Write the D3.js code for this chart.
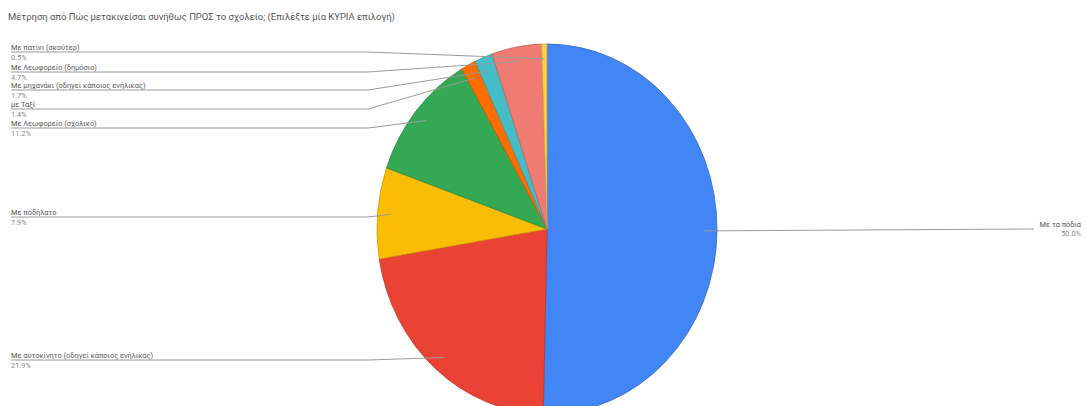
<!DOCTYPE html>
<html>
<head>
<meta charset="utf-8">
<script src="https://cdn.jsdelivr.net/npm/d3@7"></script>
<style>
  html, body { margin: 0; padding: 0; background: #fff; }
  svg { display: block; font-family: Roboto, "Noto Sans", Arial, sans-serif; }
</style>
</head>
<body>
<svg id="chart" width="1085" height="406"></svg>
<script>
// Survey answers (share of responses, %), in slice order clockwise from 12 o'clock
const categories = [
  "Με τα πόδια",
  "Με αυτοκίνητο (οδηγεί κάποιος ενήλικας)",
  "Με ποδήλατο",
  "Με Λεωφορείο (σχολικό)",
  "με Ταξί",
  "Με μηχανάκι (οδηγεί κάποιος ενήλικας)",
  "Με Λεωφορείο (δημόσιο)",
  "Με πατίνι (σκούτερ)"
];
const shares = [50.0, 21.9, 7.9, 11.2, 1.4, 1.7, 4.7, 0.5];
const palette = ["#4285F4", "#EA4335", "#FBBC04", "#34A853", "#FF6D01", "#46BDC6", "#F07B72", "#FCD04F"];
const title = "Μέτρηση από Πώς μετακινείσαι συνήθως ΠΡΟΣ το σχολείο; (Επιλέξτε μία ΚΥΡΙΑ επιλογή)";

// Vertical position of each label's leader line (label stack on the left, blue on the right)
const labelLineY = [229, 360, 217, 128, 109, 90, 72, 52];

const W = 1085, H = 406;
const cx = 547, cy = 229, R = 170, yScale = 185 / 170;

const svg = d3.select("#chart");
svg.append("rect").attr("width", W).attr("height", H).attr("fill", "#fff");

svg.append("text")
  .attr("x", 8).attr("y", 20)
  .attr("font-size", 9.45)
  .attr("fill", "#555")
  .text(title);

const pie = d3.pie().sort(null).value(d => d)
  .startAngle(0).endAngle(2 * Math.PI);
const arcs = pie(shares);
const arc = d3.arc().innerRadius(0).outerRadius(R);

const g = svg.append("g")
  .attr("transform", `translate(${cx},${cy}) scale(1,${yScale})`);

g.selectAll("path.slice")
  .data(arcs)
  .join("path")
  .attr("class", "slice")
  .attr("d", arc)
  .attr("fill", (d, i) => palette[i])
  .attr("stroke", (d, i) => d3.color(palette[i]).darker(0.6))
  .attr("stroke-width", 0.8)
  .attr("vector-effect", "non-scaling-stroke");

// Anchor point for a slice: a bit inside the rim at the slice's middle angle
function anchor(d) {
  const a = (d.startAngle + d.endAngle) / 2;
  const r = R * 0.92;
  return [cx + Math.sin(a) * r, cy - Math.cos(a) * r * yScale];
}

const fmt = v => v.toFixed(1) + "%";
const labels = svg.append("g");
const lineColor = "#9a9a9a";

arcs.forEach((d, i) => {
  const [ax, ay] = anchor(d);
  const ly = labelLineY[i];
  if (i === 0) {
    // right-hand label: line stops short, text sits beside its end
    const lineEnd = 1034, textX = 1081;
    labels.append("path")
      .attr("d", d3.line()([[ax, ay], [lineEnd, ly]]))
      .attr("fill", "none").attr("stroke", lineColor).attr("stroke-width", 1);
    labels.append("text").attr("x", textX).attr("y", ly - 2.5)
      .attr("text-anchor", "end").attr("font-size", 7.4).attr("fill", "#555")
      .text(categories[i]);
    labels.append("text").attr("x", textX).attr("y", ly + 6.5)
      .attr("text-anchor", "end").attr("font-size", 7.4).attr("fill", "#888")
      .text(fmt(shares[i]));
  } else {
    const x0 = 11;
    const bend = Math.min(ax - 20, 368);
    labels.append("path")
      .attr("d", d3.line()([[x0, ly], [bend, ly], [ax, ay]]))
      .attr("fill", "none").attr("stroke", lineColor).attr("stroke-width", 1);
    labels.append("text").attr("x", x0).attr("y", ly - 2.5)
      .attr("font-size", 7.4).attr("fill", "#555")
      .text(categories[i]);
    labels.append("text").attr("x", x0).attr("y", ly + 7.5)
      .attr("font-size", 7.4).attr("fill", "#888")
      .text(fmt(shares[i]));
  }
});
</script>
</body>
</html>
